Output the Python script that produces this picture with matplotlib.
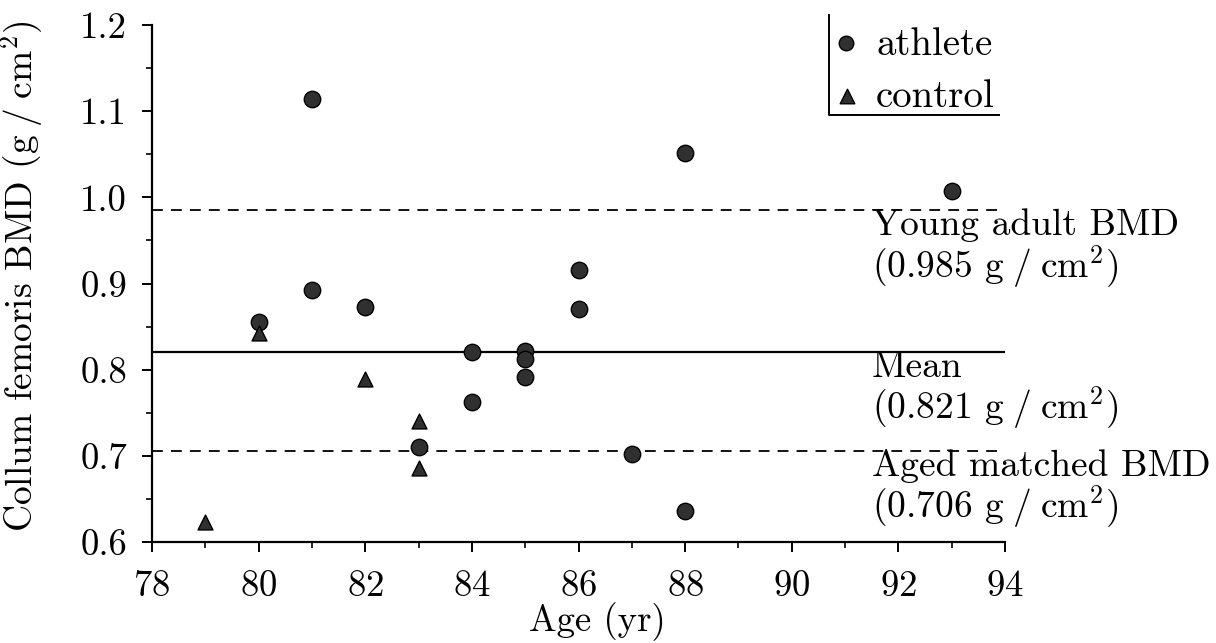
import matplotlib
matplotlib.use("Agg")
import matplotlib.pyplot as plt
from matplotlib.ticker import MultipleLocator, FormatStrFormatter

plt.rcParams["font.family"] = ["cmr10", "DejaVu Serif"]
plt.rcParams["mathtext.fontset"] = "cm"
plt.rcParams["axes.unicode_minus"] = False
plt.rcParams["axes.formatter.use_mathtext"] = True

# athletes
ath_age = [80, 81, 81, 82, 83, 84, 84, 85, 85, 85, 86, 86, 87, 88, 88, 93]
ath_bmd = [0.855, 1.114, 0.893, 0.873, 0.710, 0.820, 0.762, 0.822, 0.812,
           0.791, 0.916, 0.870, 0.702, 1.052, 0.636, 1.008]
# controls
ctl_age = [79, 80, 82, 83, 83]
ctl_bmd = [0.623, 0.843, 0.789, 0.740, 0.686]

young_bmd = 0.985
mean_bmd = 0.821
aged_bmd = 0.706

fig = plt.figure(figsize=(12.16, 6.43), dpi=100)
ax = fig.add_axes([0.125, 0.157, 0.7015, 0.804])

ax.set_xlim(78, 94)
ax.set_ylim(0.6, 1.2)

ax.plot([78, 94], [young_bmd] * 2, color="black", lw=1.3, ls=(0, (6, 4.5)))
ax.plot([78, 94], [mean_bmd] * 2, color="black", lw=1.6)
ax.plot([78, 94], [aged_bmd] * 2, color="black", lw=1.3, ls=(0, (6, 4.5)))

ax.scatter(ath_age, ath_bmd, s=140, marker="o", facecolor="#303030",
           edgecolor="black", linewidth=1.0, zorder=3, clip_on=False)
ax.scatter(ctl_age, ctl_bmd, s=115, marker="^", facecolor="#303030",
           edgecolor="black", linewidth=1.0, zorder=3, clip_on=False)

for s in ("top", "right"):
    ax.spines[s].set_visible(False)
for s in ("left", "bottom"):
    ax.spines[s].set_linewidth(1.6)

ax.xaxis.set_major_locator(MultipleLocator(2))
ax.xaxis.set_minor_locator(MultipleLocator(1))
ax.yaxis.set_major_locator(MultipleLocator(0.1))
ax.yaxis.set_minor_locator(MultipleLocator(0.05))
ax.yaxis.set_major_formatter(FormatStrFormatter("%.1f"))
ax.tick_params(which="major", length=7, width=1.4, labelsize=26.5, pad=11)
ax.tick_params(axis="x", which="major", pad=13)
ax.tick_params(which="minor", length=4, width=1.2)

ax.set_xlabel("Age (yr)", fontsize=26.5)
ax.xaxis.set_label_coords(0.522, -0.116)
ax.set_ylabel(r"Collum femoris BMD (g$\;/\;$cm$^2$)", fontsize=27)
ax.yaxis.set_label_coords(-0.125, 0.515)

# reference line labels, right of the plot
labels = [("Young adult BMD", young_bmd, 0.985),
          ("Mean", mean_bmd, 0.821),
          ("Aged matched BMD", aged_bmd, 0.706)]
for name, yv, val in labels:
    ax.text(91.5, yv - 0.029, name, fontsize=27, va="baseline", clip_on=False)
    ax.text(91.5, yv - 0.078, r"(%.3f g$\;/\;$cm$^2$)" % val, fontsize=27,
            va="baseline", clip_on=False)

# legend with an L-shaped bracket
ax.plot([0.794, 0.794, 0.993], [1.019, 0.826, 0.826], color="black", lw=1.4,
        transform=ax.transAxes, clip_on=False)
ax.scatter([0.8136], [0.965], s=110, marker="o", facecolor="#303030",
           edgecolor="black", transform=ax.transAxes, clip_on=False)
ax.scatter([0.8150], [0.863], s=110, marker="^", facecolor="#303030",
           edgecolor="black", transform=ax.transAxes, clip_on=False)
ax.text(0.849, 0.962, "athlete", fontsize=28, va="center", transform=ax.transAxes)
ax.text(0.849, 0.860, "control", fontsize=28, va="center", transform=ax.transAxes)

fig.savefig("out.png", dpi=100)
